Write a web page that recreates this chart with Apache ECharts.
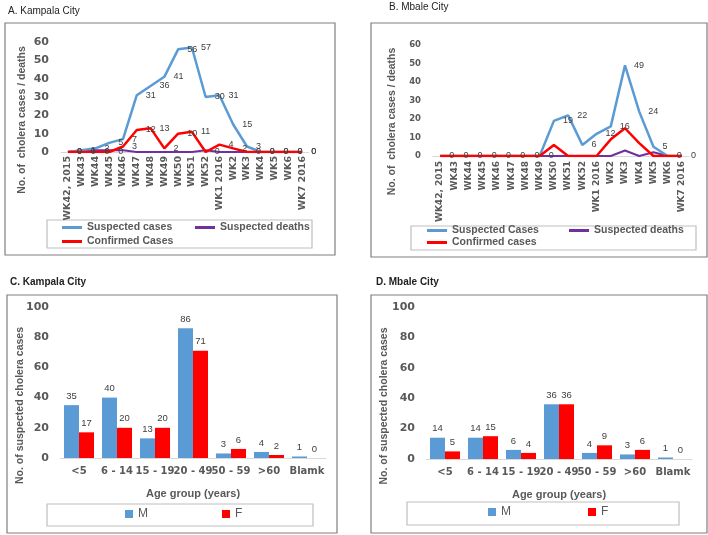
<!DOCTYPE html>
<html>
<head>
<meta charset="utf-8">
<script src="https://cdn.jsdelivr.net/npm/echarts@6/dist/echarts.min.js"></script>
<style>html,body{margin:0;padding:0;background:#fff}#container{width:708px;height:535px}</style>
</head>
<body>
<div id="container"></div>
<script>
// weekly counts (panels A and B)
var weeks = ['WK42, 2015', 'WK43', 'WK44', 'WK45', 'WK46', 'WK47', 'WK48', 'WK49', 'WK50', 'WK51', 'WK52', 'WK1 2016', 'WK2', 'WK3', 'WK4', 'WK5', 'WK6', 'WK7 2016'];
var kampalaSuspected = [0, 1, 2, 5, 7, 31, 36, 41, 56, 57, 30, 31, 15, 3, 0, 0, 0, 0];
var kampalaDeaths = [0, 1, 1, 1, 1, 0, 0, 0, 0, 0, 1, 0, 0, 0, 0, 0, 0, 0];
var kampalaConfirmed = [0, 0, 0, 0, 3, 12, 13, 2, 10, 11, 0, 4, 2, 0, 0, 0, 0, 0];
var mbaleSuspected = [0, 0, 0, 0, 0, 0, 0, 0, 19, 22, 6, 12, 16, 49, 24, 5, 0, 0];
var mbaleDeaths = [0, 0, 0, 0, 0, 0, 0, 0, 0, 0, 0, 0, 0, 3, 0, 2, 0, 0];
var mbaleConfirmed = [0, 0, 0, 0, 0, 0, 0, 0, 6, 0, 0, 0, 9, 15, 7, 0, 0, 0];

// age groups (panels C and D)
var ageGroups = ['<5', '6 - 14', '15 - 19', '20 - 49', '50 - 59', '>60', 'Blamk'];
var kampalaMale = [35, 40, 13, 86, 3, 4, 1];
var kampalaFemale = [17, 20, 20, 71, 6, 2, 0];
var mbaleMale = [14, 14, 6, 36, 4, 3, 1];
var mbaleFemale = [5, 15, 4, 36, 9, 6, 0];

var gray = '#595959';
var blue = '#5b9bd5', red = '#ff0000', purple = '#7030a0';
var sans = 'Liberation Sans';
var dv = 'DejaVu Sans';

function catAxis(grid, data, size, rotate, margin) {
    return {
        gridIndex: grid, type: 'category', data: data,
        axisLine: { lineStyle: { color: '#d9d9d9' } },
        axisTick: { show: false },
        axisLabel: { interval: 0, rotate: rotate, margin: margin, color: gray, fontWeight: 'bold', fontSize: size, fontFamily: dv }
    };
}
function valAxis(grid, max, step, size, margin, name, gap, shift) {
    return {
        gridIndex: grid, type: 'value', min: 0, max: max, interval: step,
        splitLine: { show: false }, axisLine: { show: false }, axisTick: { show: false },
        axisLabel: { margin: margin, color: gray, fontWeight: 'bold', fontSize: size, fontFamily: dv },
        name: name, nameLocation: 'middle', nameGap: gap, nameMoveOverlap: false,
        nameTextStyle: { color: gray, fontWeight: 'bold', fontSize: 10.5, fontFamily: sans, padding: [0, shift, 0, 0] }
    };
}
function lineSeries(name, data, color, idx, withLabel, width) {
    return {
        name: name, type: 'line', xAxisIndex: idx, yAxisIndex: idx, data: data,
        symbol: 'circle', symbolSize: 0.1, showSymbol: true,
        lineStyle: { color: color, width: width }, itemStyle: { color: color },
        label: { show: withLabel, position: 'right', distance: 9, fontSize: 9, fontFamily: sans, color: '#404040' },
        animation: false
    };
}
function barSeries(name, data, color, idx) {
    return {
        name: name, type: 'bar', xAxisIndex: idx, yAxisIndex: idx, data: data,
        barWidth: 15, barGap: '0%', itemStyle: { color: color },
        label: { show: true, position: 'top', distance: 4, fontSize: 9.5, fontFamily: sans, color: '#404040' },
        animation: false
    };
}
function legendItem(name, left, top, lineIcon) {
    return {
        data: [name], left: left, top: top, padding: 0, icon: 'rect',
        itemWidth: lineIcon ? 20 : 8, itemHeight: lineIcon ? 3 : 8, itemGap: 0,
        textStyle: lineIcon ? { color: gray, fontWeight: 'bold', fontSize: 10.5, fontFamily: sans }
                            : { color: gray, fontSize: 12, fontFamily: sans }
    };
}
function box(x, y, w, h, color) {
    return { type: 'rect', shape: { x: x, y: y, width: w, height: h }, style: { fill: null, stroke: color, lineWidth: 1.2 }, silent: true };
}
function heading(text, left, top, bold) {
    return { text: text, left: left, top: top, padding: 0,
        textStyle: { fontSize: 10, fontWeight: bold ? 'bold' : 'normal', color: '#222', fontFamily: sans } };
}

var myChart = echarts.init(document.getElementById('container'));
var option = {
    animation: false,
    backgroundColor: '#fff',
    title: [
        heading('A. Kampala City', 8, 6, false),
        heading('B. Mbale City', 389, 2, false),
        heading('C. Kampala City', 10, 277, true),
        heading('D. Mbale City', 376, 277, true)
    ],
    graphic: [
        box(5, 23, 330, 232, '#7f7f7f'),
        box(371, 23, 336, 234, '#7f7f7f'),
        box(7, 295, 330, 238, '#7f7f7f'),
        box(371, 295, 336, 238, '#7f7f7f'),
        box(47, 220, 265, 28, '#bfbfbf'),
        box(411, 226, 285, 24, '#bfbfbf'),
        box(47, 504, 266, 22, '#bfbfbf'),
        box(407, 502, 272, 23, '#bfbfbf')
    ],
    legend: [
        legendItem('Suspected cases', 62, 222, true),
        legendItem('Suspected deaths', 195, 222, true),
        legendItem('Confirmed Cases', 62, 236, true),
        legendItem('Suspected Cases', 427, 225, true),
        legendItem('Suspected deaths', 569, 225, true),
        legendItem('Confirmed cases', 427, 237, true),
        legendItem('M', 125, 508, false),
        legendItem('F', 222, 508, false),
        legendItem('M', 488, 506, false),
        legendItem('F', 588, 506, false)
    ],
    grid: [
        { left: 61, top: 42, width: 248, height: 110 },
        { left: 433, top: 45, width: 256, height: 111 },
        { left: 60, top: 307, width: 266, height: 151 },
        { left: 426, top: 307, width: 266, height: 152 }
    ],
    xAxis: [
        catAxis(0, weeks, 9.5, 90, 4),
        catAxis(1, weeks, 9, 90, 5),
        Object.assign(catAxis(2, ageGroups, 10, 0, 8), { name: 'Age group (years)', nameLocation: 'middle', nameGap: 30,
            nameTextStyle: { color: gray, fontWeight: 'bold', fontSize: 11, fontFamily: sans } }),
        Object.assign(catAxis(3, ageGroups, 10, 0, 8), { name: 'Age group (years)', nameLocation: 'middle', nameGap: 30,
            nameTextStyle: { color: gray, fontWeight: 'bold', fontSize: 11, fontFamily: sans } })
    ],
    yAxis: [
        valAxis(0, 60, 10, 11, 12, 'No. of  cholera cases / deaths', 33, 46),
        valAxis(1, 60, 10, 8.5, 12, 'No. of  cholera cases / deaths', 35, 42),
        valAxis(2, 100, 20, 11, 11, 'No. of suspected cholera cases', 34, 46),
        valAxis(3, 100, 20, 11, 11, 'No. of suspected cholera cases', 36, 46)
    ],
    series: [
        lineSeries('Suspected deaths', kampalaDeaths, purple, 0, false, 2),
        lineSeries('Suspected cases', kampalaSuspected, blue, 0, true, 2.5),
        lineSeries('Confirmed Cases', kampalaConfirmed, red, 0, true, 2.5),
        lineSeries('Suspected deaths', mbaleDeaths, purple, 1, false, 2),
        lineSeries('Suspected Cases', mbaleSuspected, blue, 1, true, 2.5),
        lineSeries('Confirmed cases', mbaleConfirmed, red, 1, false, 2.5),
        barSeries('M', kampalaMale, blue, 2),
        barSeries('F', kampalaFemale, red, 2),
        barSeries('M', mbaleMale, blue, 3),
        barSeries('F', mbaleFemale, red, 3)
    ]
};
myChart.setOption(option);
</script>
</body>
</html>
